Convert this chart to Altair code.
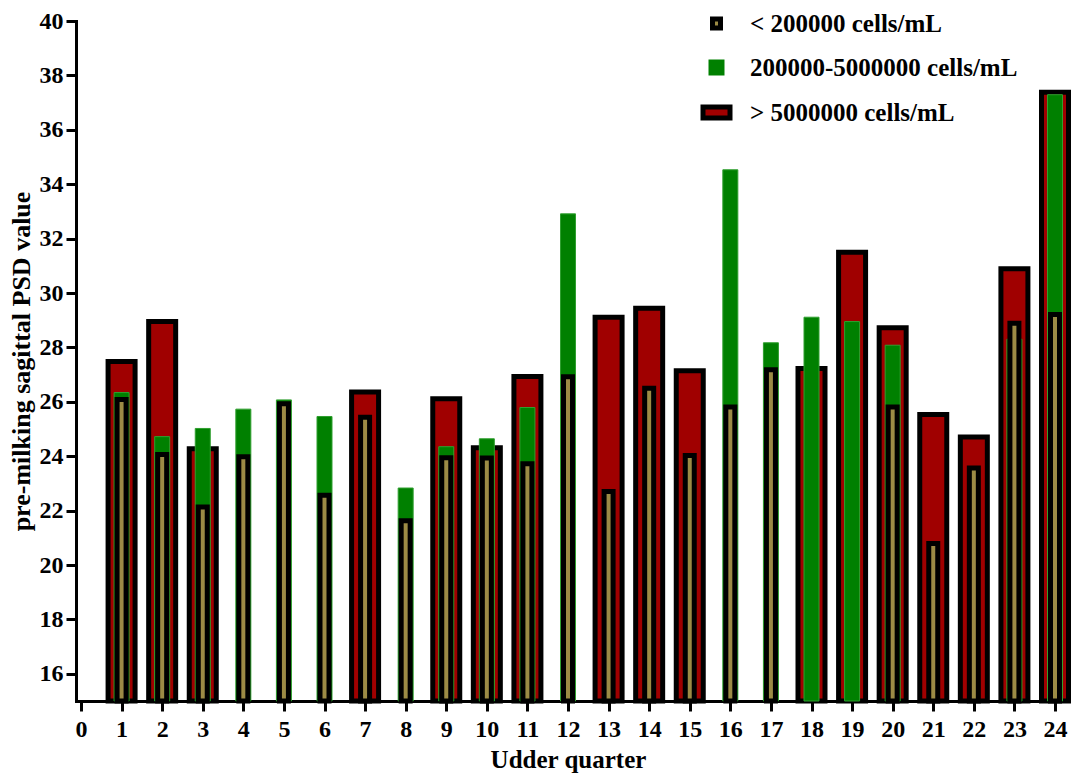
import altair as alt
import pandas as pd

quarters = list(range(1, 25))
low_scc = [26.08, 24.06, 22.13, 23.98, 25.93, 22.56, 25.43, 21.63, 23.94, 23.93, 23.72, 26.92,
           22.70, 26.50, 24.03, 25.81, 27.18, None, None, 25.81, 20.79, 23.57, 28.89, 29.21]
mid_scc = [26.34, 24.72, 25.02, 25.73, 26.07, 25.46, None, 22.83, 24.35, 24.64, 25.79, 32.91,
           None, None, None, 34.53, 28.17, 29.11, 28.95, 28.08, None, None, 28.30, 37.29]
high_scc = [27.48, 28.95, 24.27, None, None, None, 26.36, None, 26.11, 24.31, 26.93, None,
            29.11, 29.44, 27.14, None, None, 27.22, 31.50, 28.72, 25.53, 24.71, 30.89, 37.38]

series_names = ["< 200000 cells/mL", "200000-5000000 cells/mL", "> 5000000 cells/mL"]
fill_colors = ["#9C8B45", "#008000", "#A00000"]
stroke_colors = ["black", "transparent", "black"]
legend_shapes = ["M-0.5,-0.55H0.5V0.55H-0.5Z", "square", "M-1.6875,-0.6875H1.6875V0.6875H-1.6875Z"]
x_ticks = list(range(0, 25))
y_ticks = list(range(16, 41, 2))

rows = []
for name, vals in zip(series_names, [low_scc, mid_scc, high_scc]):
    for q, v in zip(quarters, vals):
        if v is not None:
            rows.append({"quarter": q, "series": name, "value": v})
df = pd.DataFrame(rows)

FONT = "'Liberation Serif', 'Times New Roman', serif"

x_enc = alt.X("quarter:Q", scale=alt.Scale(domain=[0, 24], nice=False, zero=False),
              axis=alt.Axis(values=x_ticks, format="d", title="Udder quarter",
                            labelPadding=6, titlePadding=6, labelFlush=False))
y_enc = alt.Y("value:Q", scale=alt.Scale(domain=[15, 40], nice=False, zero=False),
              axis=alt.Axis(values=y_ticks, format="d", title="pre-milking sagittal PSD value",
                            labelPadding=3, titlePadding=5, titleFontSize=26))

legend = alt.Legend(title=None, orient="none", legendX=628, legendY=-10, direction="vertical",
                    symbolSize=256, symbolStrokeWidth=5, labelFont=FONT, labelFontSize=25,
                    labelFontWeight="bold", labelColor="black", labelOffset=21, rowPadding=11,
                    labelLimit=0, padding=0, symbolOpacity=1)

base = alt.Chart(df)

legend_layer = base.mark_point(filled=True, opacity=0, size=1, strokeWidth=5).encode(
    x=x_enc, y=y_enc,
    fill=alt.Fill("series:N", scale=alt.Scale(domain=series_names, range=fill_colors), legend=legend),
    stroke=alt.Stroke("series:N", scale=alt.Scale(domain=series_names, range=stroke_colors), legend=legend),
    shape=alt.Shape("series:N", scale=alt.Scale(domain=series_names, range=legend_shapes), legend=legend),
)

red = base.transform_filter(alt.datum.series == series_names[2]).mark_bar(
    width=27, fill=fill_colors[2], stroke="black", strokeWidth=5).encode(
    x=x_enc, y=y_enc, y2=alt.datum(15))
green = base.transform_filter(alt.datum.series == series_names[1]).mark_bar(
    width=15, fill=fill_colors[1], stroke="#2f9f2f", strokeWidth=1).encode(
    x=x_enc, y=y_enc, y2=alt.datum(15))
olive = base.transform_filter(alt.datum.series == series_names[0]).mark_bar(
    width=9, fill=fill_colors[0], stroke="black", strokeWidth=5).encode(
    x=x_enc, y=y_enc, y2=alt.datum(15))

chart = alt.layer(legend_layer, red, green, olive).properties(
    width=984, height=680,
    autosize=alt.AutoSizeParams(type="none"),
    padding={"left": 68, "top": 13, "right": 16, "bottom": 76},
).configure_view(stroke=None).configure_axis(
    grid=False, domainColor="black", domainWidth=3, domainCap="square",
    tickColor="black", tickWidth=3, tickSize=10,
    labelFont=FONT, labelFontWeight="bold", labelFontSize=24, labelColor="black",
    titleFont=FONT, titleFontWeight="bold", titleFontSize=25, titleColor="black",
)

chart.save("out.html", embed_options={"renderer": "svg", "actions": False})
